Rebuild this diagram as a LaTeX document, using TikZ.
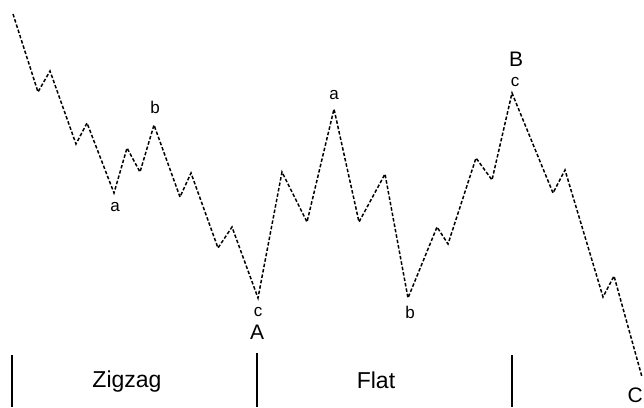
\documentclass[tikz,border=0pt]{standalone}
\usepackage{fontspec}
\setmainfont{Liberation Sans}
\begin{document}
\begin{tikzpicture}[x=1pt,y=-1pt,
  wave/.style={line width=1.5pt,dash pattern=on 3.5pt off 2pt},
  divider/.style={line width=1.2pt},
  small/.style={inner sep=0pt,font=\fontsize{17}{17}\selectfont},
  big/.style={inner sep=0pt,font=\fontsize{21}{21}\selectfont},
  title/.style={inner sep=0pt,font=\fontsize{23}{23}\selectfont}]
\useasboundingbox (0,0) rectangle (644,407);
% key turning points
\coordinate (p0) at (13,14);
\coordinate (wa) at (114,193);
\coordinate (wb) at (154,125);
\coordinate (wA) at (258,298);
\coordinate (fa) at (334,109);
\coordinate (fb) at (408,298);
\coordinate (wB) at (512,93);
\coordinate (wC) at (642,377);
\draw[wave] (p0) -- (38,92) -- (50,71) -- (76,144) -- (87,123) -- (wa)
  -- (127,148) -- (140,172) -- (wb) -- (180,197) -- (191,173) -- (218,248)
  -- (232,227) -- (wA) -- (282,172) -- (307,222) -- (fa) -- (359,222)
  -- (385,174) -- (fb) -- (437,227) -- (448,244) -- (476,158) -- (492,180)
  -- (wB) -- (553,193) -- (565,170) -- (603,297) -- (614,276) -- (wC);
% labels
\node[small] (la1) at (115,207) {a};
\node[small] (lb1) at (155,107) {b};
\node[small] (lc1) at (258,312) {c};
\node[big] (lA) at (257,332) {A};
\node[small] (la2) at (334,95) {a};
\node[small] (lb2) at (410,312) {b};
\node[small] (lc2) at (515,82) {c};
\node[big] (lB) at (516,59) {B};
\node[big,anchor=east] (lC) at (643,395) {C};
% dividers
\coordinate (d1t) at (12,355); \coordinate (d1b) at (12,407);
\coordinate (d2t) at (257,353); \coordinate (d2b) at (257,407);
\coordinate (d3t) at (512,355); \coordinate (d3b) at (512,407);
\draw[divider] (d1t) -- (d1b);
\draw[divider] (d2t) -- (d2b);
\draw[divider] (d3t) -- (d3b);
\node[title] (zz) at (127,382) {Zigzag};
\node[title] (fl) at (376,380) {Flat};
\end{tikzpicture}
\end{document}
